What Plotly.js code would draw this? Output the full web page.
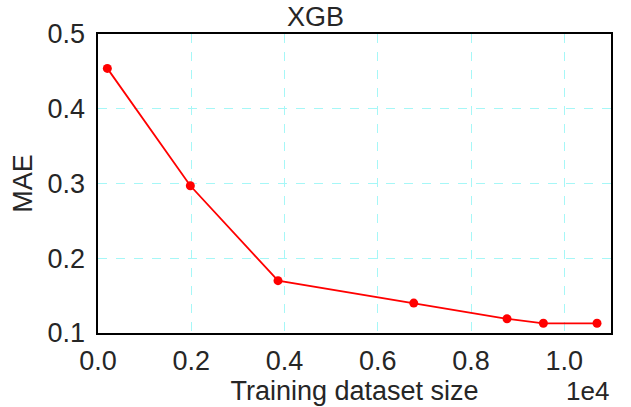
<!DOCTYPE html>
<html>
<head>
<meta charset="utf-8">
<script src="https://cdn.plot.ly/plotly-3.0.1.min.js"></script>
<style>
  html, body { margin: 0; padding: 0; background: #fff; }
  #chart { width: 631px; height: 407px; }
</style>
</head>
<body>
<div id="chart"></div>
<script>
// Learning curve for the XGB model: MAE versus number of training samples
const trainingSizes = [200, 1980, 3860, 6770, 8770, 9550, 10700];
const maeValues = [0.454, 0.297, 0.170, 0.140, 0.119, 0.113, 0.113];
const xTickValues = [0.0, 0.2, 0.4, 0.6, 0.8, 1.0];
const yTickValues = [0.1, 0.2, 0.3, 0.4, 0.5];
const xScale = 1e4;

const textColor = '#262626';
const fontFamily = 'Liberation Sans, Arial, sans-serif';
const fontSize = 27;

const trace = {
  x: trainingSizes.map(v => v / xScale),
  y: maeValues,
  mode: 'lines+markers',
  line: { color: '#ff0000', width: 1.8 },
  marker: { color: '#ff0000', size: 9 },
  hoverinfo: 'x+y'
};

const axisCommon = {
  showline: true,
  mirror: true,
  linecolor: '#000000',
  linewidth: 1.6,
  ticks: '',
  showgrid: true,
  gridcolor: '#a6f7f7',
  griddash: 'dash',
  gridwidth: 1,
  zeroline: false,
  tickfont: { family: fontFamily, size: fontSize, color: textColor }
};

const layout = {
  width: 631,
  height: 407,
  margin: { l: 98, r: 20, t: 34, b: 74 },
  paper_bgcolor: '#ffffff',
  plot_bgcolor: '#ffffff',
  showlegend: false,
  title: {
    text: 'XGB',
    font: { family: fontFamily, size: fontSize, color: textColor },
    x: 0.5,
    xanchor: 'center',
    y: 0.96,
    yanchor: 'middle'
  },
  xaxis: Object.assign({}, axisCommon, {
    range: [0, 1.1],
    tickvals: xTickValues,
    tickformat: '.1f',
    ticklabelstandoff: 3,
    title: {
      text: 'Training dataset size',
      font: { family: fontFamily, size: fontSize, color: textColor },
      standoff: 1
    }
  }),
  yaxis: Object.assign({}, axisCommon, {
    range: [0.1, 0.5],
    tickvals: yTickValues,
    tickformat: '.1f',
    ticklabelstandoff: 6,
    title: {
      text: 'MAE',
      font: { family: fontFamily, size: fontSize, color: textColor },
      standoff: 7
    }
  }),
  annotations: [{
    text: '1e4',
    xref: 'paper',
    yref: 'paper',
    x: 1,
    xanchor: 'right',
    y: -0.195,
    yanchor: 'middle',
    showarrow: false,
    font: { family: fontFamily, size: 26, color: textColor }
  }]
};

Plotly.newPlot('chart', [trace], layout, { displayModeBar: false, staticPlot: true });
</script>
</body>
</html>
